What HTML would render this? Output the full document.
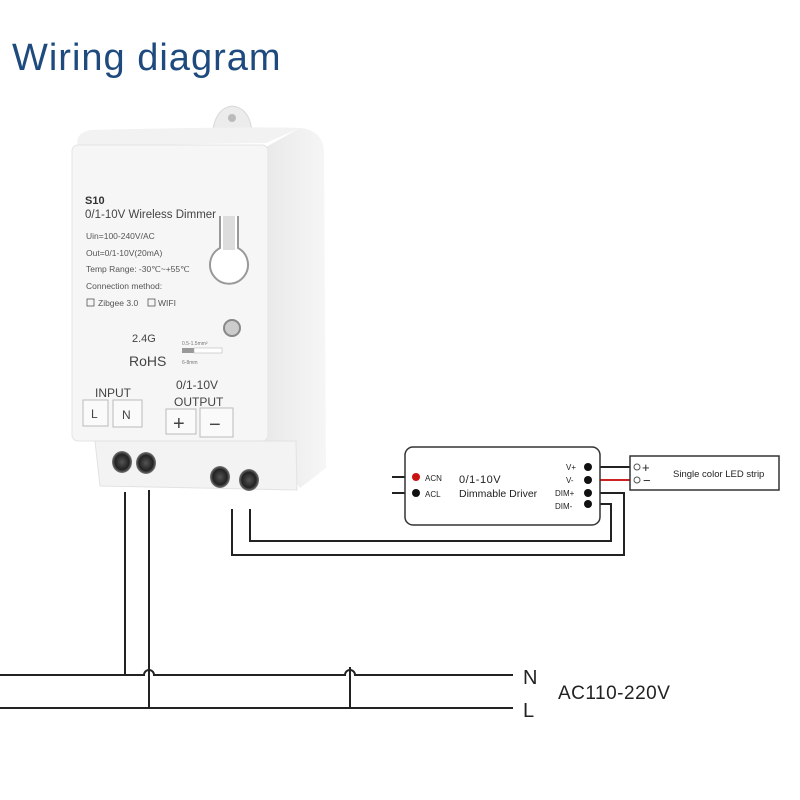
<!DOCTYPE html>
<html><head><meta charset="utf-8"><style>
html,body{margin:0;padding:0;background:#fff;width:800px;height:800px;overflow:hidden}
svg{display:block}
</style></head><body>
<svg width="800" height="800" viewBox="0 0 800 800" xmlns="http://www.w3.org/2000/svg" font-family="Liberation Sans, sans-serif">
<defs>
<linearGradient id="side" x1="0" x2="1"><stop offset="0" stop-color="#e9e9e9"/><stop offset="1" stop-color="#f6f6f6"/></linearGradient>
<radialGradient id="hole"><stop offset="0" stop-color="#555"/><stop offset="0.7" stop-color="#222"/><stop offset="1" stop-color="#777"/></radialGradient>
</defs>
<text x="12" y="70" font-size="38" fill="#1e4a7e" letter-spacing="1">Wiring diagram</text>

<!-- device -->
<path d="M212 135 Q215 108 232 106 Q250 108 252 132 Z" fill="#ececec" stroke="#d8d8d8"/>
<circle cx="232" cy="118" r="4" fill="#bbb"/>
<path d="M266 147 L300 128 Q322 130 324 150 L326 468 L300 488 L266 440 Z" fill="url(#side)"/>
<path d="M78 146 L266 143 L300 128 Q260 126 90 130 Q74 134 78 146 Z" fill="#f2f2f2"/>
<rect x="72" y="145" width="196" height="296" rx="6" fill="#f6f6f6" stroke="#e4e4e4"/>
<path d="M95 441 L296 441 L297 490 L100 486 Z" fill="#f3f3f3" stroke="#e2e2e2"/>
<text x="85" y="204" font-size="11" font-weight="bold" fill="#333">S10</text>
<text x="85" y="218" font-size="11.5" fill="#444">0/1-10V Wireless Dimmer</text>
<g font-size="8.5" fill="#555">
<text x="86" y="239">Uin=100-240V/AC</text>
<text x="86" y="256">Out=0/1-10V(20mA)</text>
<text x="86" y="272">Temp Range: -30℃~+55℃</text>
<text x="86" y="289">Connection method:</text>
<text x="98" y="306">Zibgee 3.0</text>
<text x="158" y="306">WIFI</text>
</g>
<rect x="87" y="299" width="7" height="7" fill="none" stroke="#555" stroke-width="0.8"/>
<rect x="148" y="299" width="7" height="7" fill="none" stroke="#555" stroke-width="0.8"/>
<path d="M220 216 L220 248 A19 19 0 1 0 238 248 L238 216" fill="#fff" stroke="#999" stroke-width="2"/>
<rect x="223" y="216" width="12" height="34" fill="#ddd"/>
<circle cx="232" cy="328" r="8" fill="#ccc" stroke="#888" stroke-width="2"/>
<text x="132" y="342" font-size="11" fill="#444">2.4G</text>
<text x="129" y="366" font-size="14" fill="#444">RoHS</text>
<text x="182" y="345" font-size="5" fill="#777">0.5-1.5mm²</text>
<rect x="182" y="348" width="12" height="5" fill="#999"/><rect x="194" y="348" width="28" height="5" fill="#fff" stroke="#aaa" stroke-width="0.5"/>
<text x="182" y="364" font-size="5" fill="#777">6-8mm</text>
<text x="95" y="397" font-size="12" fill="#444">INPUT</text>
<rect x="83" y="400" width="25" height="26" fill="#fafafa" stroke="#bbb"/>
<rect x="113" y="400" width="29" height="27" fill="#fafafa" stroke="#bbb"/>
<text x="91" y="418" font-size="12" fill="#444">L</text>
<text x="122" y="419" font-size="12" fill="#444">N</text>
<text x="176" y="389" font-size="12" fill="#444">0/1-10V</text>
<text x="174" y="406" font-size="12" fill="#444">OUTPUT</text>
<rect x="166" y="409" width="30" height="25" fill="#fafafa" stroke="#bbb"/>
<rect x="200" y="408" width="33" height="29" fill="#fafafa" stroke="#bbb"/>
<text x="173" y="430" font-size="20" fill="#444">+</text>
<text x="209" y="431" font-size="20" fill="#444">−</text>
<ellipse cx="122" cy="462" rx="10" ry="11" fill="url(#hole)"/>
<ellipse cx="146" cy="463" rx="10" ry="11" fill="url(#hole)"/>
<ellipse cx="220" cy="477" rx="10" ry="11" fill="url(#hole)"/>
<ellipse cx="249" cy="480" rx="10" ry="11" fill="url(#hole)"/>

<!-- wires -->
<g stroke="#222" stroke-width="2" fill="none">
<line x1="125" y1="492" x2="125" y2="675"/>
<path d="M0 675 L144 675 A5 5 0 0 1 154 675 L345 675 A5 5 0 0 1 355 675 L513 675"/>
<line x1="149" y1="490" x2="149" y2="708"/>
<line x1="350" y1="667" x2="350" y2="708"/>
<line x1="0" y1="708" x2="513" y2="708"/>
<path d="M250 509 L250 541 L611 541 L611 504 L590 504"/>
<path d="M232 509 L232 555 L624 555 L624 493 L590 493"/>
<line x1="392" y1="477" x2="414" y2="477"/>
<line x1="392" y1="493" x2="414" y2="493"/>
<line x1="590" y1="467" x2="630" y2="467"/>
</g>
<line x1="590" y1="480" x2="640" y2="480" stroke="#c22" stroke-width="2"/>
<text x="523" y="684" font-size="20" fill="#222">N</text>
<text x="523" y="717" font-size="20" fill="#222">L</text>
<text x="558" y="699" font-size="19" fill="#222" letter-spacing="0.5">AC110-220V</text>

<!-- driver -->
<rect x="405" y="447" width="195" height="78" rx="8" fill="#fff" stroke="#333" stroke-width="1.5"/>
<circle cx="416" cy="477" r="4" fill="#c11"/>
<circle cx="416" cy="493" r="4" fill="#111"/>
<g font-size="8" fill="#222"><text x="425" y="481">ACN</text><text x="425" y="497">ACL</text>
<text x="566" y="470">V+</text><text x="566" y="483">V-</text><text x="555" y="496">DIM+</text><text x="555" y="509">DIM-</text></g>
<text x="459" y="483" font-size="11" fill="#222" letter-spacing="0.5">0/1-10V</text>
<text x="459" y="497" font-size="10.5" fill="#222">Dimmable Driver</text>
<g fill="#111"><circle cx="588" cy="467" r="4"/><circle cx="588" cy="480" r="4"/><circle cx="588" cy="493" r="4"/><circle cx="588" cy="504" r="4"/></g>
<rect x="630" y="456" width="149" height="34" fill="#fff" stroke="#333" stroke-width="1.5"/>
<circle cx="637" cy="467" r="3" fill="#fff" stroke="#555"/><circle cx="637" cy="480" r="3" fill="#fff" stroke="#555"/>
<text x="642" y="472" font-size="13" fill="#222">+</text>
<text x="643" y="485" font-size="13" fill="#222">−</text>
<text x="673" y="477" font-size="9.5" fill="#222">Single color LED strip</text>
</svg>
</body></html>
